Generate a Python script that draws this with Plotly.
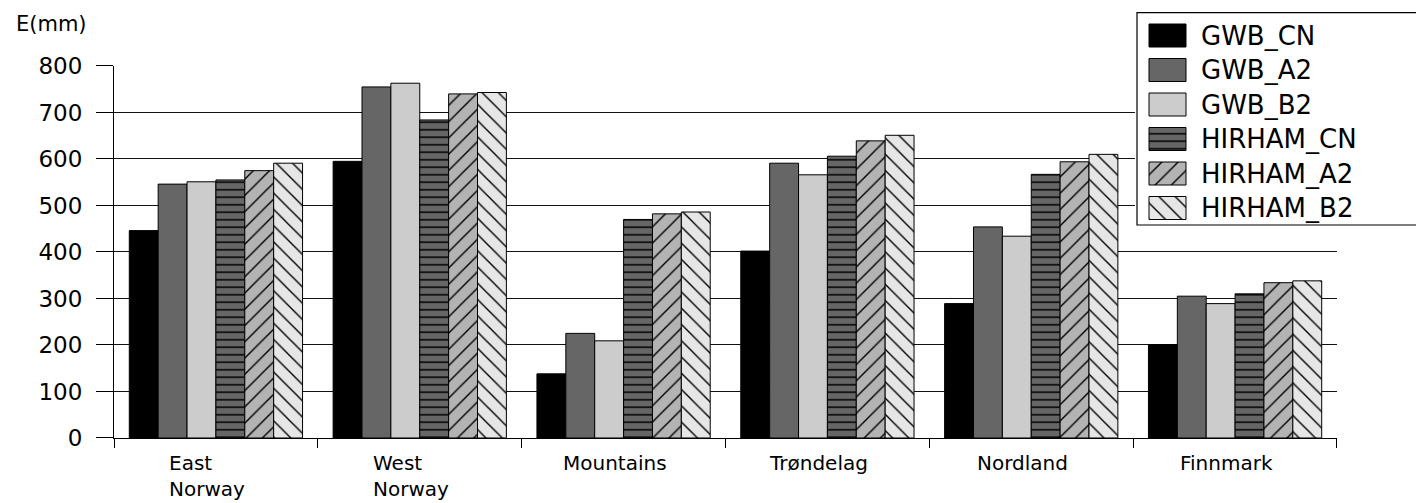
import plotly.graph_objects as go

categories = ["East Norway", "West Norway", "Mountains", "Trøndelag", "Nordland", "Finnmark"]
category_labels = ["East<br>Norway", "West<br>Norway", "Mountains", "Trøndelag", "Nordland", "Finnmark"]
series_names = ["GWB_CN", "GWB_A2", "GWB_B2", "HIRHAM_CN", "HIRHAM_A2", "HIRHAM_B2"]
gwb_cn = [446, 595, 138, 402, 289, 201]
gwb_a2 = [546, 755, 225, 591, 454, 305]
gwb_b2 = [551, 763, 209, 566, 434, 289]
hirham_cn = [555, 684, 470, 606, 567, 310]
hirham_a2 = [575, 740, 482, 639, 594, 334]
hirham_b2 = [591, 743, 486, 651, 610, 338]
y_ticks = [0, 100, 200, 300, 400, 500, 600, 700, 800]

series_values = [gwb_cn, gwb_a2, gwb_b2, hirham_cn, hirham_a2, hirham_b2]
styles = [
    dict(color="#000000", shape="", size=8, sol=0.2),
    dict(color="#666666", shape="", size=8, sol=0.2),
    dict(color="#cccccc", shape="", size=8, sol=0.2),
    dict(color="#666666", shape="-", size=7.5, sol=0.2),
    dict(color="#b3b3b3", shape="/", size=11.5, sol=0.12),
    dict(color="#e6e6e6", shape="\\", size=11.5, sol=0.12),
]

FONT = "DejaVu Sans"
fig = go.Figure()


def make_marker(st):
    marker = dict(color=st["color"], line=dict(color="#000000", width=1))
    if st["shape"]:
        marker["pattern"] = dict(shape=st["shape"], fillmode="replace", bgcolor=st["color"],
                                 fgcolor="#000000", size=st["size"], solidity=st["sol"])
    return marker


for name, vals, st in zip(series_names, series_values, styles):
    fig.add_trace(go.Bar(x=categories, y=vals, name=name, marker=make_marker(st), showlegend=False))

# custom legend (box + swatches) in a second subplot
row_pitch = 34.5
row_first = 25.5
row_y = [row_first + row_pitch * i for i in range(len(series_names))]
fig.add_trace(go.Bar(
    orientation="h", y=[108.85], x=[400], base=[0], width=[212.3], offset=-106.15,
    marker=dict(color="#ffffff", line=dict(color="#000000", width=1.2)),
    xaxis="x2", yaxis="y2", showlegend=False, hoverinfo="skip"))
for name, yv, st in zip(series_names, row_y, styles):
    fig.add_trace(go.Bar(
        orientation="h", y=[yv], x=[37], base=[12], width=[23], offset=-11.5,
        marker=make_marker(st), xaxis="x2", yaxis="y2", showlegend=False, hoverinfo="skip"))

annotations = []
for name, yv in zip(series_names, row_y):
    annotations.append(dict(text=name, x=62, y=yv, xref="x2", yref="y2", xanchor="left",
                            yanchor="middle", showarrow=False,
                            font=dict(family=FONT, size=26, color="#000000")))
for cat, lab in zip(categories, category_labels):
    annotations.append(dict(text=lab, x=cat, y=-0.026, xref="x", yref="paper", xanchor="center",
                            yanchor="top", align="left", showarrow=False, xshift=-9,
                            font=dict(family=FONT, size=20, color="#000000")))
annotations.append(dict(text="E(mm)", x=-0.0768, y=0.9673, xref="paper", yref="paper",
                        xanchor="left", yanchor="middle", showarrow=False,
                        font=dict(family=FONT, size=21, color="#000000")))

fig.update_layout(
    width=1416, height=503,
    margin=dict(l=114, r=0, t=10, b=65, pad=0),
    paper_bgcolor="#ffffff", plot_bgcolor="#ffffff",
    barmode="group", bargap=0.15, bargroupgap=0,
    font=dict(family=FONT, color="#000000"),
    annotations=annotations,
    xaxis=dict(domain=[0, 0.93932], type="category", categoryorder="array", categoryarray=categories,
               showticklabels=False, ticks="outside", tickson="boundaries", ticklen=9,
               tickcolor="#000000", tickwidth=1, showline=True, linecolor="#000000", linewidth=1,
               showgrid=False, zeroline=False, automargin=False),
    yaxis=dict(domain=[0, 0.86916], range=[0, 800], tickmode="array", tickvals=y_ticks,
               ticktext=[str(v) for v in y_ticks], ticks="outside", ticklen=17,
               tickcolor="#000000", tickwidth=1, ticklabelstandoff=9,
               tickfont=dict(family=FONT, size=23, color="#000000"),
               showline=True, linecolor="#000000", linewidth=1, automargin=False,
               showgrid=True, gridcolor="#111111", gridwidth=1, zeroline=False),
    xaxis2=dict(domain=[0.78418, 1], range=[-2, 279], visible=False, fixedrange=True),
    yaxis2=dict(domain=[0.49065, 1], range=[218, 0], visible=False, fixedrange=True),
)

fig.write_html("out.html", config={"displayModeBar": False},
               post_script="document.body.style.margin='0';document.body.style.overflow='hidden';")
